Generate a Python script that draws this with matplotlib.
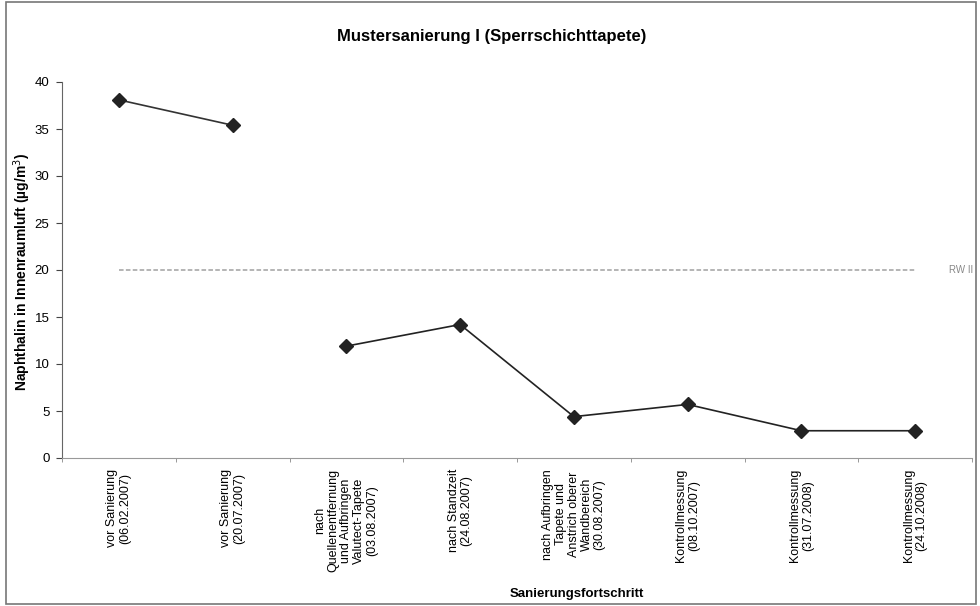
import matplotlib
matplotlib.use('Agg')

import matplotlib.pyplot as plt
import numpy as np

plt.rcParams['font.family'] = ['Liberation Sans', 'DejaVu Sans']

# Daten
kategorien = [
    'vor Sanierung\n(06.02.2007)',
    'vor Sanierung\n(20.07.2007)',
    'nach\nQuellenentfernung\nund Aufbringen\nValutect-Tapete\n(03.08.2007)',
    'nach Standzeit\n(24.08.2007)',
    'nach Aufbringen\nTapete und\nAnstrich oberer\nWandbereich\n(30.08.2007)',
    'Kontrollmessung\n(08.10.2007)',
    'Kontrollmessung\n(31.07.2008)',
    'Kontrollmessung\n(24.10.2008)',
]
naphthalin = [38.1, 35.4, None, None, None, None, None, None]
naphthalin_nach = [None, None, 11.9, 14.2, 4.4, 5.7, 2.9, 2.9]
rw_ii = 20

fig = plt.figure(figsize=(9.8, 6.06), dpi=100)
ax = fig.add_axes([62 / 980, 1 - 458 / 606, 910 / 980, 376 / 606])

x = np.arange(len(kategorien))
y1 = np.array([np.nan if v is None else v for v in naphthalin])
y2 = np.array([np.nan if v is None else v for v in naphthalin_nach])

ax.plot(x, y1, color='#333333', lw=1.2, marker='D', ms=7,
        mfc='#222222', mec='#222222')
ax.plot(x, y2, color='#222222', lw=1.2, marker='D', ms=7,
        mfc='#222222', mec='#222222')

# Richtwert II
ax.plot(x, [rw_ii] * len(x), color='#a0a0a0', lw=1.1, ls=(0, (3, 1.5)))
ax.text(x[-1] + 0.3, rw_ii, 'RW II', fontsize=7, color='#888888',
        va='center', ha='left')

ax.set_xlim(-0.5, len(x) - 0.5)
ax.set_ylim(0, 40)
ax.set_yticks(range(0, 41, 5))
ax.tick_params(axis='y', labelsize=9.5, length=4, width=0.8, color='#444444',
               pad=5)
ax.set_xticks(x)
ax.set_xticklabels(kategorien, rotation=90, fontsize=9, ha='center',
                   va='top', multialignment='center', linespacing=1.1)
ax.tick_params(axis='x', length=0, pad=8)
ax.set_xticks(np.arange(-0.5, len(x), 1), minor=True)
ax.tick_params(axis='x', which='minor', length=3, color='#888888')

ax.spines['top'].set_visible(False)
ax.spines['right'].set_visible(False)
ax.spines['left'].set_color('#666666')
ax.spines['bottom'].set_color('#999999')
ax.spines['bottom'].set_linestyle((0, (1, 1)))

ax.set_ylabel('Naphthalin in Innenraumluft (µg/m$^3$)', fontsize=10,
              fontweight='bold', va='center')
ax.set_xlabel('Sanierungsfortschritt', fontsize=9.5, fontweight='bold',
              va='center')
ax.xaxis.set_label_coords(515 / 910, -(594 - 458) / 376)
ax.yaxis.set_label_coords(-(62 - 22) / 910, (458 - 272) / 376)

fig.text(492 / 980, 1 - 36 / 606, 'Mustersanierung I (Sperrschichttapete)',
         fontsize=12, fontweight='bold', ha='center', va='center')

# Rahmen
fig.patches.append(plt.Rectangle((0.006, 0.003), 0.99, 0.994,
                                 transform=fig.transFigure, fill=False,
                                 edgecolor='#777777', lw=1.2))

fig.savefig('out.png', dpi=100)
